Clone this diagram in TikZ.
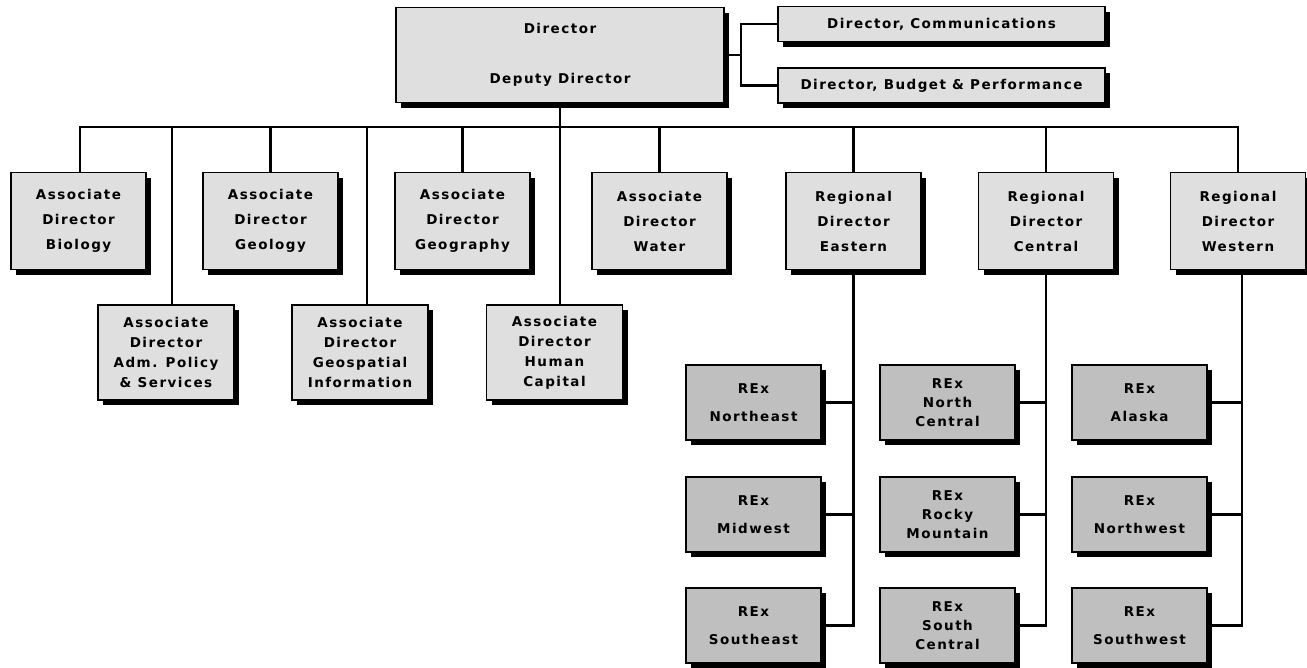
\documentclass[tikz,border=0pt]{standalone}
\usepackage{fontspec}
\setmainfont{DejaVu Sans}[LetterSpace=11]
\usetikzlibrary{shadows}
\tikzset{
  box/.style={draw=black, line width=1.3pt, fill=gray!25, align=center, inner sep=0pt,
    font=\bfseries\fontsize{13.5}{25}\selectfont,
    drop shadow={shadow xshift=5pt, shadow yshift=-5pt, fill=black, opacity=1}},
  topbox/.style={box, minimum width=135pt, minimum height=97pt},
  lowbox/.style={box, minimum width=136pt, minimum height=95pt, font=\bfseries\fontsize{13.5}{20}\selectfont},
  rexbox/.style={box, fill=gray!50, minimum width=135pt, minimum height=75pt, font=\bfseries\fontsize{13.5}{28}\selectfont},
  rexthree/.style={rexbox, font=\bfseries\fontsize{13.5}{19}\selectfont},
  sidebox/.style={box, minimum width=327pt, minimum height=35pt},
  link/.style={draw=black, line width=2.2pt}
}
\begin{document}
\begin{tikzpicture}[x=1pt,y=-1pt]
\useasboundingbox (0,0) rectangle (1307,667);
% top
\node[box, minimum width=328pt, minimum height=95pt, font=\bfseries\fontsize{13.5}{50}\selectfont] (dir) at (560,55) {Director\\Deputy Director};
\node[sidebox] (com) at (941.5,24) {Director, Communications};
\node[sidebox] (bud) at (941.5,85.5) {Director, Budget \& Performance};
\coordinate (sj) at (741,55);
\coordinate (bus) at (0,127);
% first row
\node[topbox] (bio) at (78.5,221) {Associate\\Director\\Biology};
\node[topbox] (geo) at (270.5,221) {Associate\\Director\\Geology};
\node[topbox] (ggr) at (462.5,221) {Associate\\Director\\Geography};
\node[topbox] (wat) at (659.5,221) {Associate\\Director\\Water};
\node[topbox] (eas) at (853.5,221) {Regional\\Director\\Eastern};
\node[topbox] (cen) at (1046,221) {Regional\\Director\\Central};
\node[topbox] (wes) at (1238,221) {Regional\\Director\\Western};
\coordinate (wsp) at ([xshift=4pt]wes.south);
% second row
\node[lowbox] (adm) at (166,352.5) {Associate\\Director\\Adm. Policy\\\& Services};
\node[lowbox] (gsp) at (360,352.5) {Associate\\Director\\Geospatial\\Information};
\node[lowbox] (hum) at (554.5,352.5) {Associate\\Director\\Human\\Capital};
% REx
\node[rexbox] (ne) at (753.5,402.5) {REx\\Northeast};
\node[rexbox] (mw) at (753.5,514.5) {REx\\Midwest};
\node[rexbox] (se) at (753.5,625.5) {REx\\Southeast};
\node[rexthree] (nc) at (947.5,402.5) {REx\\North\\Central};
\node[rexthree] (rm) at (947.5,514.5) {REx\\Rocky\\Mountain};
\node[rexthree] (sc) at (947.5,625.5) {REx\\South\\Central};
\node[rexbox] (ak) at (1139.5,402.5) {REx\\Alaska};
\node[rexbox] (nw) at (1139.5,514.5) {REx\\Northwest};
\node[rexbox] (sw) at (1139.5,625.5) {REx\\Southwest};
% connectors
\draw[link] (dir.east) -- (sj);
\draw[link] (com.west) -| (sj) |- (bud.west);
\draw[link] (dir.south) -- (hum.north -| dir.south);
\draw[link] ([xshift=1.5pt]bio.north) -- ([xshift=1.5pt]bio.north |- bus) -| (wes.north);
\foreach \n in {geo,ggr,wat,eas,cen}{\draw[link] (\n.north) -- (\n.north |- bus);}
\draw[link] ([xshift=6pt]adm.north) -- ([xshift=6pt]adm.north |- bus);
\draw[link] ([xshift=7pt]gsp.north) -- ([xshift=7pt]gsp.north |- bus);
\draw[link] (eas.south) |- (se.east);
\draw[link] (ne.east) -- (ne.east -| eas.south);
\draw[link] (mw.east) -- (mw.east -| eas.south);
\draw[link] (cen.south) |- (sc.east);
\draw[link] (nc.east) -- (nc.east -| cen.south);
\draw[link] (rm.east) -- (rm.east -| cen.south);
\draw[link] (wsp) |- (sw.east);
\draw[link] (ak.east) -- (ak.east -| wsp);
\draw[link] (nw.east) -- (nw.east -| wsp);
\end{tikzpicture}
\end{document}
